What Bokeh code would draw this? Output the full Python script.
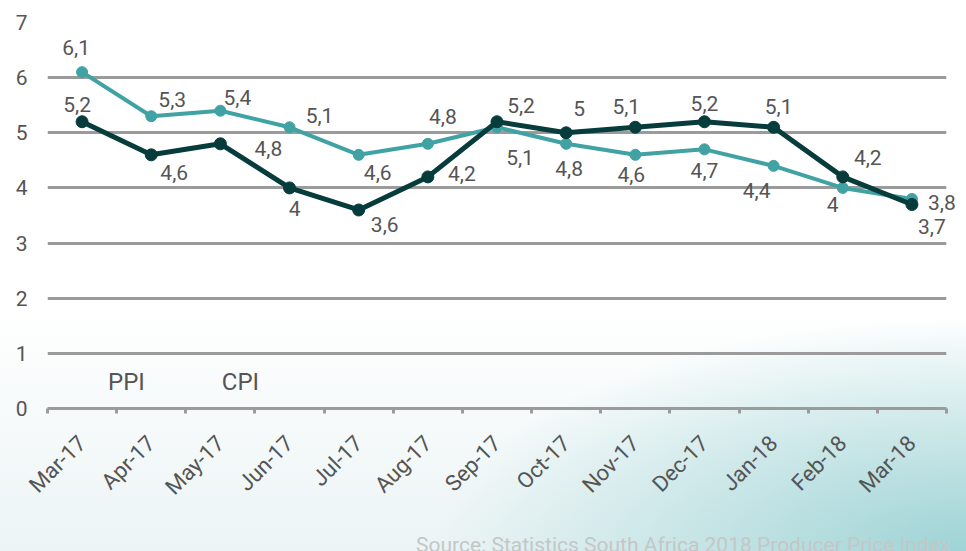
import math
from bokeh.plotting import figure
from bokeh.models import (Range1d, LinearAxis, FixedTicker,
                          ColumnDataSource, Legend, LegendItem, CustomJSTickFormatter)
from bokeh.core.properties import value
from bokeh.embed import file_html
from bokeh.resources import INLINE

# ---- data ----
months = ["Mar-17", "Apr-17", "May-17", "Jun-17", "Jul-17", "Aug-17", "Sep-17",
          "Oct-17", "Nov-17", "Dec-17", "Jan-18", "Feb-18", "Mar-18"]
ppi = [5.2, 4.6, 4.8, 4.0, 3.6, 4.2, 5.2, 5.0, 5.1, 5.2, 5.1, 4.2, 3.7]
cpi = [6.1, 5.3, 5.4, 5.1, 4.6, 4.8, 5.1, 4.8, 4.6, 4.7, 4.4, 4.0, 3.8]
y_ticks = [0, 1, 2, 3, 4, 5, 6, 7]
series_names = ["PPI", "CPI"]
source_note = "Source: Statistics South Africa 2018 Producer Price Index"

# label offsets (screen px, y down) per point
ppi_dx = [-5, 23, 48, 5, 26, 34, 24, 13, -9, 0, 5, 25, 20]
ppi_dy = [-17, 18, 5, 21, 15, -3, -16, -24, -21, -18, -21, -19, 22]
cpi_dx = [-6, 21, 17, 30, 19, 15, 23, 3, -4, 0, -17, -10, 30]
cpi_dy = [-25, -17, -13, -12, 18, -27, 30, 25, 20, 21, 25, 17, 4]

PPI_COLOR = "#073c3d"
CPI_COLOR = "#41a2a4"
GRID = "#9b9b9b"
TXT = "#555555"
FONT = "Roboto"


def fmt(v):
    return f"{v:g}".replace(".", ",")


n = len(months)
centers = [i + 0.5 for i in range(n)]      # category slot centres
bounds = list(range(n + 1))                # category slot boundaries

p = figure(width=966, height=551,
           x_range=Range1d(0, n),
           y_range=Range1d(0, 7),
           output_backend="svg", toolbar_location=None,
           x_axis_location=None, y_axis_location="left",
           min_border_left=47, min_border_right=20,
           min_border_top=22, min_border_bottom=143)
p.background_fill_color = None
p.border_fill_color = None
p.outline_line_color = None
p.xgrid.visible = False
p.styles = {"background": "radial-gradient(ellipse 55% 42% at 100% 100%, rgba(150,208,210,0.9) 0%, rgba(150,208,210,0) 100%), linear-gradient(180deg, #ffffff 0%, #ffffff 55%, #ecf4f5 100%)"}

# y axis
p.yaxis.ticker = FixedTicker(ticks=y_ticks)
p.yaxis.axis_line_color = None
p.yaxis.major_tick_line_color = None
p.yaxis.minor_tick_line_color = None
p.yaxis.major_tick_out = 0
p.yaxis.major_tick_in = 0
p.yaxis.major_label_standoff = 20
p.yaxis.major_label_text_font = FONT
p.yaxis.major_label_text_font_size = "21px"
p.yaxis.major_label_text_color = TXT

p.ygrid.ticker = FixedTicker(ticks=y_ticks)
p.ygrid.grid_line_color = GRID
p.ygrid.grid_line_width = 3

# x tick axis (ticks at category boundaries)
tick_axis = LinearAxis(ticker=FixedTicker(ticks=bounds),
                       formatter=CustomJSTickFormatter(code="return ''"),
                       axis_line_color=GRID, axis_line_width=3,
                       major_tick_line_color=GRID, major_tick_line_width=3,
                       major_tick_out=5, major_tick_in=0,
                       minor_tick_line_color=None,
                       major_label_standoff=0, major_label_text_font_size="1px")
p.add_layout(tick_axis, "below")

label_axis = LinearAxis(ticker=FixedTicker(ticks=centers),
                        major_label_overrides={c: m for c, m in zip(centers, months)},
                        major_label_orientation=math.pi / 4,
                        axis_line_color=None, major_tick_line_color=None,
                        minor_tick_line_color=None,
                        major_tick_out=0, major_tick_in=0,
                        major_label_standoff=26,
                        major_label_text_font=FONT,
                        major_label_text_font_size="22px",
                        major_label_text_color=TXT)
p.add_layout(label_axis, "below")

# data
src_ppi = ColumnDataSource(dict(x=centers, v=ppi, lbl=[fmt(v) for v in ppi], dx=ppi_dx, dy=ppi_dy))
src_cpi = ColumnDataSource(dict(x=centers, v=cpi, lbl=[fmt(v) for v in cpi], dx=cpi_dx, dy=cpi_dy))

p.line(x="x", y="v", source=src_cpi, line_color=CPI_COLOR, line_width=4, line_join="round")
p.scatter(x="x", y="v", source=src_cpi, size=11, fill_color=CPI_COLOR, line_color=CPI_COLOR)
p.line(x="x", y="v", source=src_ppi, line_color=PPI_COLOR, line_width=5, line_join="round")
p.scatter(x="x", y="v", source=src_ppi, size=12, fill_color=PPI_COLOR, line_color=PPI_COLOR)

for src in (src_ppi, src_cpi):
    p.text(x="x", y="v", text="lbl", x_offset="dx", y_offset="dy", source=src,
           text_align="center", text_baseline="middle", level="overlay",
           text_font=value(FONT), text_font_size="21px", text_color=TXT)

# source note, anchored at the right end of the x axis
p.text(x=[n], y=[0], text=[source_note], x_offset=4, y_offset=136,
       text_align="right", text_baseline="alphabetic", level="overlay",
       text_font=value(FONT), text_font_size="21px", text_color="#c3c7c7")

# legend (inside the plot frame, bottom left, so that it is not clipped)
leg_ppi = p.line(x=[], y=[], line_color=PPI_COLOR, line_width=7, line_cap="round")
leg_cpi = p.line(x=[], y=[], line_color=CPI_COLOR, line_width=7, line_cap="round")
legend = Legend(items=[LegendItem(label=series_names[0], renderers=[leg_ppi]),
                       LegendItem(label=series_names[1], renderers=[leg_cpi])],
                orientation="horizontal", location=(8, 12),
                glyph_width=38, glyph_height=24, label_standoff=15, spacing=24,
                label_text_font=FONT, label_text_font_size="24px",
                label_text_color=TXT, background_fill_alpha=0,
                border_line_color=None, padding=0, margin=0)
p.add_layout(legend, "center")

open("out.html", "w").write(file_html(p, INLINE))
